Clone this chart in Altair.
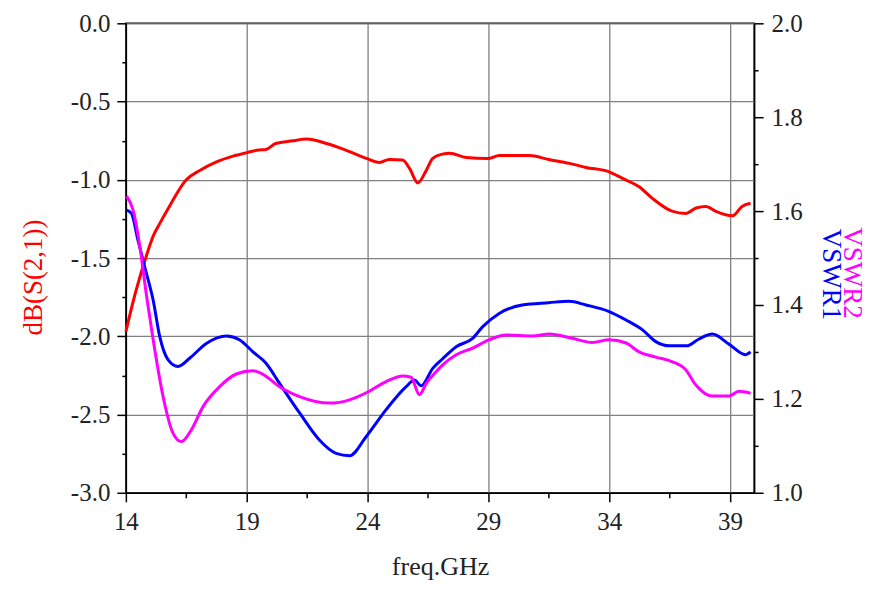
import altair as alt
import pandas as pd

# ---- data ----
s21_freq = [14.0, 14.4, 14.86, 15.13, 15.4, 15.8, 16.5, 17.06, 17.75, 18.4, 19.04, 19.5, 19.8,
            20.2, 20.9, 21.47, 22.3, 23.1, 23.95, 24.5, 24.9, 25.45, 25.74, 26.08, 26.43, 26.7,
            27.1, 27.4, 28.08, 28.98, 29.45, 30.7, 31.5, 32.35, 33.04, 34.0, 34.55, 35.24, 35.8,
            36.6, 37.17, 37.6, 38.0, 38.4, 39.1, 39.5, 39.85]
s21_db = [-1.97, -1.72, -1.48, -1.36, -1.28, -1.17, -1.0, -0.94, -0.885, -0.85, -0.825, -0.81, -0.806,
          -0.768, -0.751, -0.74, -0.768, -0.81, -0.863, -0.889, -0.87, -0.874, -0.927, -1.02, -0.94, -0.863,
          -0.836, -0.83, -0.857, -0.864, -0.845, -0.845, -0.87, -0.895, -0.921, -0.949, -0.991, -1.045, -1.12,
          -1.20, -1.215, -1.18, -1.17, -1.20, -1.23, -1.17, -1.15]

vswr1_freq = [14.03, 14.23, 14.5, 14.78, 15.13, 15.4, 15.75, 16.16, 16.65, 17.33, 18.16, 18.7, 19.26,
              19.8, 20.36, 21.19, 22.0, 22.7, 23.26, 23.95, 24.77, 25.6, 25.94, 26.22, 26.7, 27.1,
              27.67, 28.35, 28.77, 29.45, 30.4, 31.5, 32.35, 33.04, 34.0, 34.7, 35.38, 35.93, 36.5,
              37.2, 37.7, 38.27, 38.95, 39.64, 39.85]
vswr1_val = [1.602, 1.595, 1.538, 1.481, 1.41, 1.333, 1.283, 1.269, 1.287, 1.318, 1.334, 1.326, 1.30,
             1.276, 1.233, 1.17, 1.113, 1.084, 1.079, 1.12, 1.177, 1.226, 1.24, 1.228, 1.265, 1.285,
             1.311, 1.329, 1.354, 1.382, 1.40, 1.405, 1.408, 1.40, 1.386, 1.368, 1.347, 1.322, 1.313,
             1.313, 1.327, 1.338, 1.317, 1.294, 1.30]

vswr2_freq = [14.03, 14.3, 14.58, 14.86, 15.13, 15.54, 15.95, 16.3, 16.71, 17.2, 17.88, 18.57, 19.26,
              19.8, 20.36, 21.19, 22.43, 23.26, 23.95, 24.77, 25.46, 25.8, 26.15, 26.43, 26.84, 27.1,
              27.67, 28.35, 29.04, 29.73, 30.83, 31.52, 32.48, 33.3, 34.0, 34.7, 35.24, 35.93, 36.62,
              37.17, 37.58, 38.27, 38.95, 39.37, 39.85]
vswr2_val = [1.632, 1.602, 1.524, 1.418, 1.326, 1.205, 1.127, 1.109, 1.134, 1.184, 1.226, 1.253, 1.26,
             1.248, 1.226, 1.205, 1.191, 1.198, 1.213, 1.237, 1.249, 1.246, 1.209, 1.233, 1.258, 1.272,
             1.294, 1.308, 1.326, 1.336, 1.334, 1.338, 1.329, 1.32, 1.326, 1.319, 1.30, 1.289, 1.279,
             1.262, 1.23, 1.206, 1.206, 1.216, 1.212]

x_ticks = [14, 16.5, 19, 21.5, 24, 26.5, 29, 31.5, 34, 36.5, 39]
left_ticks = [-3.0, -2.75, -2.5, -2.25, -2.0, -1.75, -1.5, -1.25, -1.0, -0.75, -0.5, -0.25, 0.0]
right_ticks = [1.0, 1.1, 1.2, 1.3, 1.4, 1.5, 1.6, 1.7, 1.8, 1.9, 2.0]

# ---- tables ----
s21 = pd.DataFrame({"freq": s21_freq, "db": s21_db})
vswr = pd.concat([
    pd.DataFrame({"freq": vswr1_freq, "vswr": vswr1_val, "series": "VSWR1"}),
    pd.DataFrame({"freq": vswr2_freq, "vswr": vswr2_val, "series": "VSWR2"}),
])

FONT = "Liberation Serif"
W, H = 629, 470

x_axis = alt.Axis(
    values=x_ticks,
    title="freq.GHz",
    titleFont=FONT, titleFontSize=26, titleFontWeight="normal", titleColor="#222",
    titleBaseline="alphabetic", titleY=82,
    labelFont=FONT, labelFontSize=25, labelColor="#222", labelPadding=8,
    labelExpr="(datum.value - 14) % 5 == 0 ? datum.label : ''",
    labelFlush=False, labelOverlap=False,
    tickSize={"condition": {"test": "(datum.value - 14) % 5 == 0", "value": 9}, "value": 5},
    tickColor="black", tickWidth=1.5,
    domainColor="black", domainWidth=1.5,
    grid=True, gridColor="#808080", gridWidth=1.3,
    gridOpacity={"condition": {"test": "(datum.value - 14) % 5 == 0", "value": 1}, "value": 0},
)
x_enc = alt.X("freq:Q", scale=alt.Scale(domain=[14, 40], nice=False, zero=False), axis=x_axis)

left_major = "abs(datum.value*2 - round(datum.value*2)) < 0.001"
left_axis = alt.Axis(
    values=left_ticks,
    title="dB(S(2,1))",
    titleFont=FONT, titleFontSize=27, titleFontWeight="normal", titleColor="#ff0000",
    titleX=-92, titleY=254, titleAlign="center", titleBaseline="middle", titleAngle=270,
    labelFont=FONT, labelFontSize=25, labelColor="#222", labelPadding=7,
    labelExpr=left_major + " ? replace(format(datum.value, '.1f'), '\u2212', '-') : ''",
    labelFlush=False, labelOverlap=False,
    tickSize={"condition": {"test": left_major, "value": 9}, "value": 4},
    tickColor="black", tickWidth=1.5,
    domainColor="black", domainWidth=1.5,
    grid=True, gridColor="#808080", gridWidth=1.3,
    gridOpacity={"condition": {"test": left_major, "value": 1}, "value": 0},
)

right_major = "abs(datum.value*5 - round(datum.value*5)) < 0.001"
right_axis = alt.Axis(
    values=right_ticks, orient="right",
    title="VSWR1",
    titleFont=FONT, titleFontSize=27, titleFontWeight="normal", titleColor="#0000ff",
    titleX=76, titleY=251, titleAlign="center", titleBaseline="middle", titleAngle=90,
    labelFont=FONT, labelFontSize=25, labelColor="#222", labelPadding=8,
    labelExpr=right_major + " ? format(datum.value, '.1f') : ''",
    labelFlush=False, labelOverlap=False,
    tickSize={"condition": {"test": right_major, "value": 9}, "value": 4},
    tickColor="black", tickWidth=1.5,
    domainColor="black", domainWidth=1.5,
    grid=False,
)

red = alt.Chart(s21).mark_line(color="#ff0000", strokeWidth=3, interpolate="monotone").encode(
    x=x_enc,
    y=alt.Y("db:Q", scale=alt.Scale(domain=[-3.0, 0.0], nice=False, zero=False), axis=left_axis),
)

vs = alt.Chart(vswr).mark_line(strokeWidth=3, interpolate="monotone").encode(
    x=x_enc,
    y=alt.Y("vswr:Q", scale=alt.Scale(domain=[1.0, 2.0], nice=False, zero=False), axis=right_axis),
    color=alt.Color("series:N", scale=alt.Scale(domain=["VSWR1", "VSWR2"], range=["#0000ff", "#ff00ff"]),
                    legend=None),
    detail="series:N",
)

vswr2_label = alt.Chart(pd.DataFrame({"t": ["VSWR2"]})).mark_text(
    font=FONT, fontSize=27, color="#ff00ff", angle=90, align="center", baseline="middle"
).encode(text="t:N", x=alt.value(727), y=alt.value(250))

chart = alt.layer(red, vs, vswr2_label).resolve_scale(y="independent").properties(
    width=W, height=H,
    autosize=alt.AutoSizeParams(type="none"),
    padding={"left": 118, "top": 15, "right": 122, "bottom": 90},
    background="white",
).configure_view(stroke="black", strokeWidth=1.5)

chart.save("out.html", embed_options={"renderer": "svg", "actions": False})
